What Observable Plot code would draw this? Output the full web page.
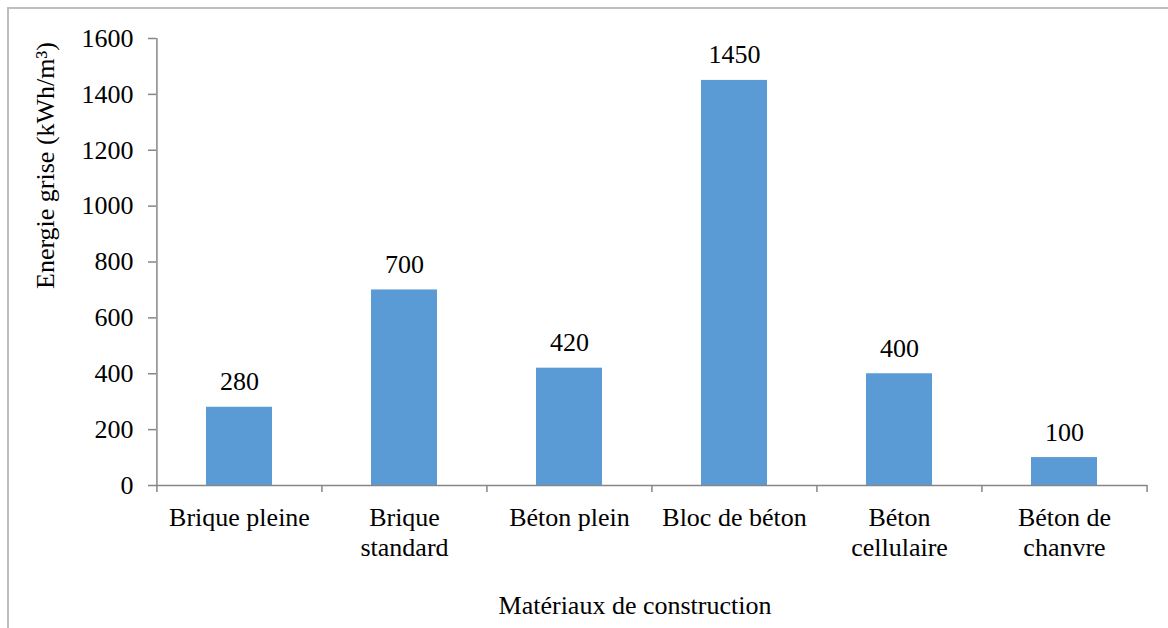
<!DOCTYPE html>
<html>
<head>
<meta charset="utf-8">
<script src="https://cdn.jsdelivr.net/npm/d3@7"></script>
<script src="https://cdn.jsdelivr.net/npm/@observablehq/plot@0.6"></script>
<style>
  html, body { margin: 0; padding: 0; background: #fff; }
  #wrap { position: relative; width: 1168px; height: 628px; overflow: hidden; }
  #border { position: absolute; left: 7px; top: 7px; width: 1200px; height: 700px;
            border-left: 2px solid #BEBEBE; border-top: 2px solid #BEBEBE; pointer-events: none; }
  #chart { position: absolute; left: 0; top: 0; }
  #chart svg, #chart svg text { font-family: "Liberation Serif", "Times New Roman", serif !important; }
</style>
</head>
<body>
<div id="wrap">
  <div id="chart"></div>
  <div id="border"></div>
</div>
<script>
const categories = ["Brique pleine", "Brique standard", "Béton plein", "Bloc de béton", "Béton cellulaire", "Béton de chanvre"];
const values = [280, 700, 420, 1450, 400, 100];
const xLabels = ["Brique pleine", "Brique\nstandard", "Béton plein", "Bloc de béton", "Béton\ncellulaire", "Béton de\nchanvre"];
const yTicks = [0, 200, 400, 600, 800, 1000, 1200, 1400, 1600];
const yTitle = "Energie grise (kWh/m³)";
const xTitle = "Matériaux de construction";

const data = categories.map((c, i) => ({cat: c, value: values[i], label: xLabels[i]}));

const W = 1168, H = 628;
const mL = 156, mR = 21, mT = 38, mB = 143;
const step = (W - mL - mR) / categories.length;
const axisColor = "#868686";

const plot = Plot.plot({
  width: W,
  height: H,
  marginLeft: mL,
  marginRight: mR,
  marginTop: mT,
  marginBottom: mB,
  style: {fontFamily: "Liberation Serif, serif", fontSize: "26px", color: "#000", background: "#fff"},
  x: {domain: categories, paddingInner: 0.6, paddingOuter: 0.3, axis: null},
  y: {domain: [0, 1600], axis: null},
  marks: [
    Plot.barY(data, {x: "cat", y: "value", fill: "#5B9BD5"}),
    // y axis line
    Plot.ruleX([categories[0]], {dx: -step / 2, stroke: axisColor, strokeWidth: 1.5}),
    // x axis line
    Plot.ruleY([0], {stroke: axisColor, strokeWidth: 1.5}),
    // category boundary ticks
    Plot.ruleX(categories, {x: d => d, y1: 0, y2: 0, dx: -step / 2, insetBottom: -7, stroke: axisColor, strokeWidth: 1.5}),
    Plot.ruleX([categories[categories.length - 1]], {x: d => d, y1: 0, y2: 0, dx: step / 2, insetBottom: -7, stroke: axisColor, strokeWidth: 1.5}),
    Plot.axisY({ticks: yTicks, tickFormat: d => String(d), tickSize: 8, tickPadding: 15, stroke: axisColor, strokeWidth: 1.5, fill: "#000", label: null}),
    // value labels
    Plot.text(data, {x: "cat", y: "value", text: d => String(d.value), lineAnchor: "bottom", dy: -17, fill: "#000"}),
    // x category labels
    Plot.text(data, {x: "cat", text: "label", frameAnchor: "bottom", lineAnchor: "top", dy: 19, lineHeight: 1.15, fill: "#000"}),
    // axis titles
    Plot.text([xTitle], {frameAnchor: "bottom", dx: -17, dy: 128, lineAnchor: "bottom", fill: "#000"}),
    Plot.text([yTitle], {frameAnchor: "top-left", dx: -111, dy: 127, rotate: -90, textAnchor: "middle", lineAnchor: "middle", fill: "#000"})
  ]
});
document.getElementById("chart").appendChild(plot);
</script>
</body>
</html>
